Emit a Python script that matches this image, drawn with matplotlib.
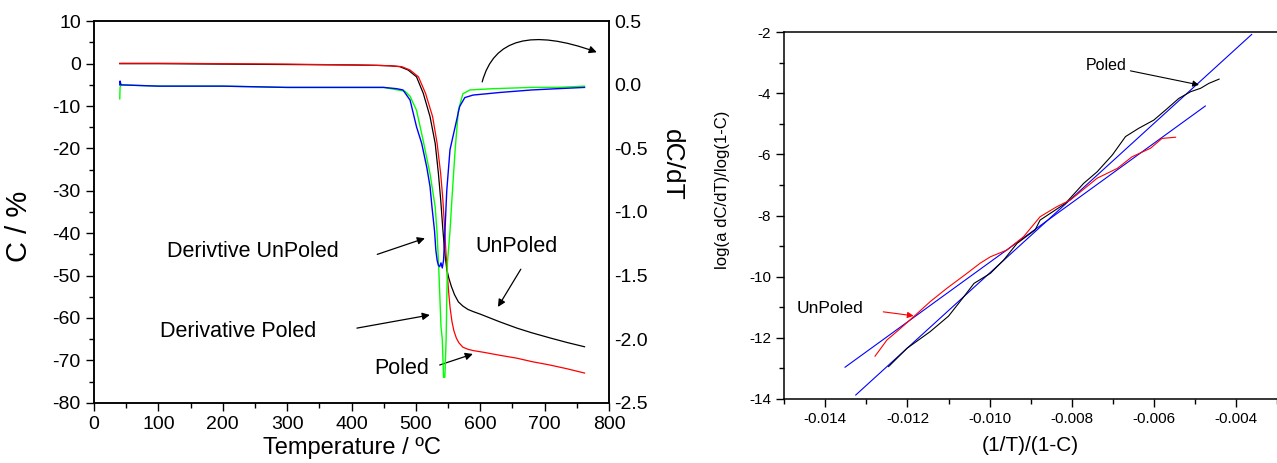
import matplotlib
matplotlib.use("Agg")
import matplotlib.pyplot as plt
from matplotlib.ticker import MultipleLocator, FormatStrFormatter

plt.rcParams['font.family'] = ['Liberation Sans', 'DejaVu Sans']
plt.rcParams['axes.unicode_minus'] = False

# left panel: conversion C (%) vs temperature
t_unpoled = [40, 100, 200, 300, 400, 440, 460, 475, 488, 501, 511.5, 522, 530, 535,
             538.6, 541.6, 544, 546, 548, 551, 555, 560, 566, 573, 581, 589, 600, 615,
             630, 657, 680, 708, 735, 762]
c_unpoled = [0, 0, -0.1, -0.2, -0.3, -0.4, -0.5, -0.7, -1.5, -3.1, -7, -12.5, -18.8,
             -25.9, -32.2, -38.5, -43, -46, -48.5, -50.5, -52.5, -54.5, -56.2, -57.2,
             -58, -58.5, -59.1, -60, -60.9, -62.4, -63.5, -64.7, -65.8, -66.8]

t_poled = [40, 100, 200, 300, 400, 440, 460, 478, 491, 504, 515, 526, 533, 538.5, 542,
           544.5, 546.5, 548.5, 551, 553, 556, 559, 563, 567, 573, 581, 589, 605, 630,
           657, 680, 708, 735, 762]
c_poled = [0.1, 0.1, 0, -0.1, -0.3, -0.4, -0.5, -0.7, -1.5, -3.1, -7, -12.5, -18.8,
           -25.9, -32.2, -38.5, -44, -49, -54, -57.4, -60.8, -63, -64.8, -65.9, -66.9,
           -67.4, -67.7, -68.1, -68.8, -69.5, -70.3, -71.1, -72, -73]

# derivatives (right axis)
t_der_unpoled = [40, 40.5, 42, 100, 200, 300, 400, 450, 470, 480, 491, 501, 509, 517,
                 522, 525, 529, 531, 533, 535, 537, 539, 541, 543, 545, 548, 553, 561,
                 568, 576, 589, 610, 630, 680, 720, 762]
d_der_unpoled = [0.0, 0.03, 0.0, -0.01, -0.01, -0.02, -0.02, -0.02, -0.03, -0.04, -0.12,
                 -0.33, -0.46, -0.65, -0.8, -0.96, -1.15, -1.3, -1.38, -1.42, -1.43, -1.40,
                 -1.44, -1.38, -1.17, -0.83, -0.51, -0.33, -0.17, -0.10, -0.08, -0.07,
                 -0.06, -0.04, -0.03, -0.02]

t_der_poled = [40, 40.5, 42, 100, 200, 300, 400, 450, 483, 491, 501, 511, 522, 530, 533,
               536, 539, 541, 543, 545, 547, 549, 553, 556, 561, 566, 573, 584, 620, 680,
               720, 762]
d_der_poled = [-0.11, -0.02, 0.0, -0.01, -0.01, -0.02, -0.02, -0.02, -0.05, -0.09, -0.2,
               -0.43, -0.7, -0.96, -1.17, -1.5, -1.9, -2.0, -2.3, -2.3, -2.0, -1.4, -1.15,
               -0.9, -0.51, -0.2, -0.07, -0.04, -0.03, -0.02, -0.02, -0.01]

# right panel: kinetic plot
x_poled = [-0.01246, -0.01201, -0.01145, -0.0110, -0.01063, -0.01038, -0.00998, -0.00966,
           -0.00933, -0.00889, -0.00877, -0.00815, -0.00771, -0.00738, -0.00701, -0.00669,
           -0.00637, -0.0060, -0.00567, -0.00539, -0.0051, -0.00486, -0.00466, -0.00441]
y_poled = [-12.94, -12.34, -11.8, -11.29, -10.66, -10.22, -9.89, -9.46, -8.91, -8.47,
           -8.15, -7.6, -6.95, -6.57, -6.02, -5.42, -5.15, -4.88, -4.5, -4.17, -3.95,
           -3.84, -3.68, -3.54]

x_unpoled = [-0.01279, -0.0125, -0.01222, -0.01185, -0.01145, -0.01104, -0.01055,
             -0.01023, -0.00998, -0.00958, -0.00917, -0.00877, -0.00836, -0.00803,
             -0.00738, -0.00689, -0.00653, -0.00608, -0.0058, -0.00547]
y_unpoled = [-12.6, -12.07, -11.75, -11.31, -10.82, -10.38, -9.89, -9.56, -9.35, -9.13,
             -8.69, -8.04, -7.71, -7.49, -6.78, -6.46, -6.08, -5.8, -5.48, -5.44]

fit_poled_x = [-0.01326, -0.003617]
fit_poled_y = [-13.87, -2.08]
fit_unpoled_x = [-0.01352, -0.004746]
fit_unpoled_y = [-12.96, -4.42]

fig = plt.figure(figsize=(12.77, 4.63), dpi=100)

ax = fig.add_axes([94 / 1277, 1 - 402.7 / 463, 515 / 1277, 381.4 / 463])
ax2 = ax.twinx()

ax.plot(t_unpoled, c_unpoled, color="black", lw=0.9)
ax.plot(t_poled, c_poled, color="#ff0000", lw=0.9)
ax2.plot(t_der_poled, d_der_poled, color="#00ff00", lw=1.0)
ax2.plot(t_der_unpoled, d_der_unpoled, color="#0000ff", lw=1.0)

ax.set_xlim(0, 800)
ax.set_ylim(-80, 10)
ax2.set_ylim(-2.5, 0.5)

ax.xaxis.set_major_locator(MultipleLocator(100))
ax.xaxis.set_minor_locator(MultipleLocator(50))
ax.yaxis.set_major_locator(MultipleLocator(10))
ax.yaxis.set_minor_locator(MultipleLocator(5))
ax2.yaxis.set_major_locator(MultipleLocator(0.5))
ax2.yaxis.set_major_formatter(FormatStrFormatter("%.1f"))

ax.tick_params(which="major", direction="out", length=6, width=1, labelsize=14)
ax.tick_params(which="minor", direction="out", length=3.5, width=1)
ax.tick_params(top=False, right=False)
ax2.tick_params(axis="y", length=0, labelsize=14, pad=4)
for a in (ax, ax2):
    for s in a.spines.values():
        s.set_linewidth(1.1)

ax.set_xlabel("Temperature / ºC", fontsize=17, labelpad=3)
ax.set_ylabel("C / %", fontsize=21)
ax.yaxis.set_label_coords(-0.118, 0.463)
ax2.set_ylabel("dC/dT", fontsize=19, rotation=270)
ax2.yaxis.set_label_coords(1.146, 0.623)

arrow = dict(arrowstyle="-|>", color="black", lw=0.9, mutation_scale=11,
             shrinkA=0, shrinkB=0)
ax.text(113, -44.4, "Derivtive UnPoled", fontsize=15.5, va="center")
ax.annotate("", xy=(514, -41.2), xytext=(440, -45), arrowprops=arrow)
ax.text(102.5, -63.3, "Derivative Poled", fontsize=15.5, va="center")
ax.annotate("", xy=(521.7, -59.3), xytext=(408.4, -62.4), arrowprops=arrow)
ax.text(593, -43.2, "UnPoled", fontsize=15.5, va="center")
ax.annotate("", xy=(627.5, -57.4), xytext=(663, -48.5), arrowprops=arrow)
ax.text(436, -72, "Poled", fontsize=15.5, va="center")
ax.annotate("", xy=(588.5, -68.5), xytext=(537, -71.1), arrowprops=arrow)
ax.annotate("", xy=(781, 2.7), xytext=(603, -4.3),
            arrowprops=dict(arrowstyle="-|>", color="black", lw=0.9, mutation_scale=11,
                            shrinkA=0, shrinkB=0,
                            connectionstyle="angle3,angleA=75,angleB=-20"))

# right panel
axr = fig.add_axes([784.3 / 1277, 1 - 399 / 463, (1277 - 784.3) / 1277, 367 / 463])
axr.plot(fit_poled_x, fit_poled_y, color="#0000ff", lw=0.8)
axr.plot(fit_unpoled_x, fit_unpoled_y, color="#0000ff", lw=0.8)
axr.plot(x_poled, y_poled, color="black", lw=0.8)
axr.plot(x_unpoled, y_unpoled, color="#ff0000", lw=0.8)

axr.set_xlim(-0.015, -0.003)
axr.set_ylim(-14, -2)
axr.xaxis.set_major_locator(MultipleLocator(0.002))
axr.xaxis.set_minor_locator(MultipleLocator(0.001))
axr.xaxis.set_major_formatter(FormatStrFormatter("%.3f"))
axr.yaxis.set_major_locator(MultipleLocator(2))
axr.yaxis.set_minor_locator(MultipleLocator(1))
axr.yaxis.set_major_formatter(FormatStrFormatter("%d"))
axr.tick_params(which="major", direction="out", length=6, width=1, labelsize=11)
axr.tick_params(which="minor", direction="out", length=3.5, width=1)
axr.spines["right"].set_visible(False)
for s in ("left", "bottom", "top"):
    axr.spines[s].set_linewidth(1.1)

axr.set_xlabel("(1/T)/(1-C)", fontsize=15, labelpad=7)
axr.set_ylabel("log(a dC/dT)/log(1-C)", fontsize=12)
axr.yaxis.set_label_coords(-0.110, 0.57)

axr.text(-0.00767, -3.08, "Poled", fontsize=11.5, va="center")
axr.annotate("", xy=(-0.0049, -3.73), xytext=(-0.00657, -3.27),
             arrowprops=dict(arrowstyle="-|>", color="black", lw=0.8, mutation_scale=9,
                             shrinkA=0, shrinkB=0))
axr.text(-0.0147, -11.04, "UnPoled", fontsize=12.5, va="center")
axr.annotate("", xy=(-0.01185, -11.28), xytext=(-0.01259, -11.15),
             arrowprops=dict(arrowstyle="-|>", color="#ff0000", lw=0.8, mutation_scale=9,
                             shrinkA=0, shrinkB=0))

fig.savefig("out.png", dpi=100)
